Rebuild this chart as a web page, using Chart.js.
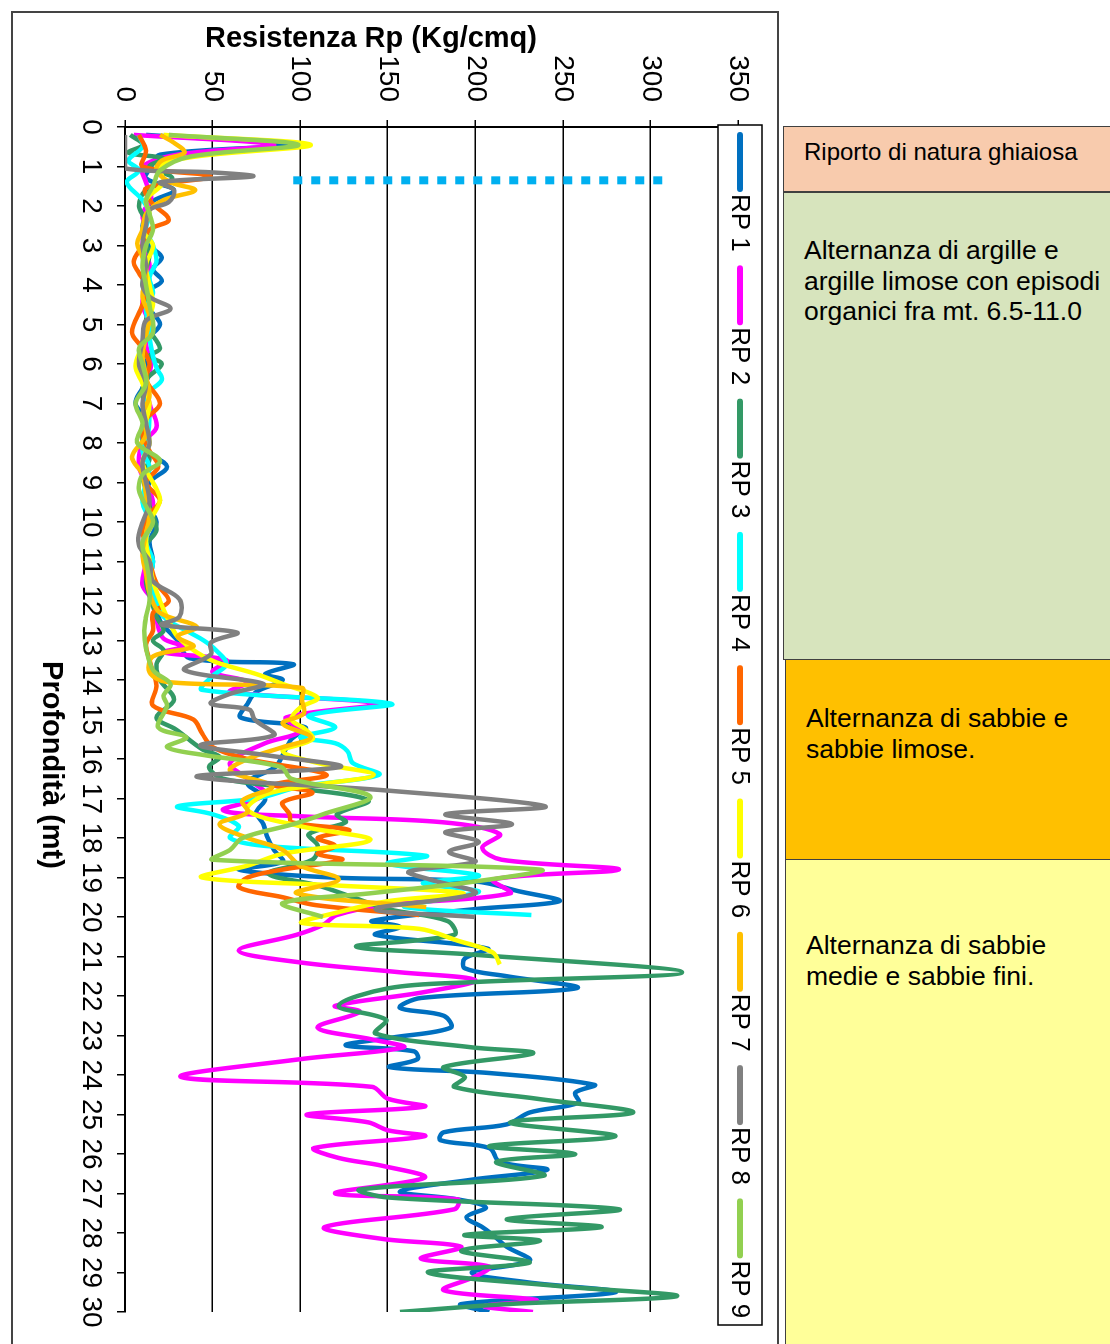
<!DOCTYPE html>
<html>
<head>
<meta charset="utf-8">
<script src="https://cdn.jsdelivr.net/npm/chart.js@4/dist/chart.umd.min.js"></script>
<style>
  html, body { margin: 0; padding: 0; overflow: hidden; background: #fff; width: 1110px; height: 1344px; }
  #frame { position: absolute; left: 11px; top: 11px; width: 768px; height: 1370px; border: 2px solid #444; box-sizing: border-box; }
  #wrap { position: absolute; left: -271px; top: 295px; width: 1332px; height: 766px; transform: rotate(90deg); }
  .box { position: absolute; left: 783px; width: 340px; box-sizing: border-box; border: 1.5px solid #404040;
         font: 26.5px 'Liberation Sans', Arial, sans-serif; color: #000; line-height: 30.5px; padding-left: 20px; }
</style>
</head>
<body>
<div id="frame"></div>
<div id="wrap"><canvas id="myChart" width="1332" height="766"></canvas></div>

<div class="box" style="top:126px;height:66px;background:#f8cbad;padding-top:10px;font-size:24px;">Riporto di natura ghiaiosa</div>
<div class="box" style="top:192px;height:468px;background:#d7e4bd;padding-top:42px;">Alternanza di argille e<br>argille limose con episodi<br>organici fra mt. 6.5-11.0</div>
<div class="box" style="top:659px;height:201px;left:785px;background:#ffc000;padding-top:43px;">Alternanza di sabbie e<br>sabbie limose.</div>
<div class="box" style="top:859px;height:500px;left:785px;background:#ffff99;padding-top:70px;">Alternanza di sabbie<br>medie e sabbie fini.</div>

<script>
// depth (m) and resistance Rp (Kg/cmq), one pair of arrays per test
const rp1Depth = [0.2,0.45,0.7,1.0,1.3,1.6,1.9,2.2,2.6,3.0,3.3,3.6,3.9,4.2,4.6,5.0,5.4,5.8,6.2,6.6,7.0,7.4,7.8,8.2,8.6,9.0,9.5,10.0,10.5,11.0,11.5,12.0,12.5,13.0,13.45,13.6,13.85,14.0,14.3,14.6,14.95,15.2,15.5,15.9,16.2,16.6,17.0,17.35,17.65,17.95,18.3,18.6,18.8,19.0,19.1,19.35,19.6,19.8,20.1,20.25,20.45,20.8,21.05,21.3,21.5,21.8,22.05,22.3,22.5,22.8,23.05,23.25,23.4,23.6,23.8,23.95,24.25,24.45,24.7,24.95,25.25,25.45,25.65,25.85,26.2,26.4,26.65,26.95,27.15,27.35,27.6,27.85,28.05,28.35,28.7,29.0,29.25,29.5,29.8,30.0];
const rp1 = [12,92,20,15,12,28,15,12,10,14,21,16,21,12,14,20,12,10,14,10,6,12,10,12,24,14,12,18,14,16,14,18,20,30,37,96,80,90,75,70,66,103,95,90,86,70,80,75,79,81,85,90,65,118,200,225,248,200,141,157,143,207,194,194,218,258,169,157,182,186,153,126,165,167,151,208,268,257,259,231,218,182,180,208,214,241,198,157,190,206,195,204,210,218,231,198,230,280,192,208];

const rp2Depth = [0.2,0.45,0.7,1.0,1.4,1.8,2.2,2.6,3.0,3.5,4.0,4.5,5.0,5.5,6.0,6.5,7.0,7.6,8.0,8.6,9.0,9.5,10.0,10.5,11.0,11.6,12.0,12.5,12.95,13.15,13.3,13.5,13.8,14.05,14.3,14.6,14.95,15.3,15.6,16.1,16.5,16.9,17.3,17.45,17.6,17.9,18.25,18.55,18.8,19.05,19.4,19.7,19.95,20.2,20.45,20.85,21.15,21.4,21.6,21.9,22.25,22.4,22.8,23.1,23.3,23.6,24.05,24.3,24.6,24.8,25.0,25.2,25.4,25.55,25.85,26.1,26.3,26.6,27.0,27.15,27.4,27.85,28.15,28.35,28.65,28.85,29.1,29.45,29.7,29.85,30.0];
const rp2 = [5,85,30,10,12,15,10,12,10,14,12,10,14,12,15,12,14,18,10,8,12,16,14,12,12,10,16,18,22,33,22,58,50,70,60,144,92,100,80,60,70,80,56,100,181,214,204,215,282,210,220,148,121,113,98,65,100,157,200,171,120,134,110,141,159,100,32,141,150,171,104,139,150,171,108,122,147,171,120,190,188,114,147,192,169,208,200,182,235,205,233];

const rp3Depth = [0.2,0.45,0.65,0.8,1.0,1.3,1.6,2.0,2.4,2.8,3.2,3.6,4.0,4.5,5.0,5.6,5.8,6.0,6.4,6.8,7.2,7.6,8.0,8.4,8.8,9.2,9.6,10.2,10.6,11.0,11.5,12.0,12.4,12.75,13.0,13.25,13.6,14.0,14.5,14.95,15.25,15.75,15.95,16.2,16.5,16.75,17.05,17.4,17.6,17.9,18.2,18.55,18.9,19.2,19.5,19.8,20.1,20.45,20.75,20.95,21.4,21.65,21.8,22.25,22.6,22.95,23.3,23.45,23.8,24.05,24.3,24.6,24.95,25.2,25.55,25.8,26.0,26.2,26.55,26.9,27.1,27.4,27.65,27.85,28.05,28.2,28.45,28.75,29.0,29.35,29.6,29.8,30.0];
const rp3 = [3,10,2,22,14,27,12,8,12,10,14,12,10,14,12,20,14,21,12,10,14,12,10,14,10,12,14,18,12,14,12,15,18,22,16,22,18,20,28,18,29,44,54,48,56,100,139,121,126,105,110,107,82,110,130,150,184,188,132,198,318,198,151,122,149,143,198,233,182,194,188,235,290,220,280,208,257,212,239,134,150,282,218,272,194,237,192,231,173,249,315,218,157];

const rp4Depth = [0.2,0.5,0.85,1.1,1.4,1.85,2.2,2.6,3.0,3.4,3.8,4.2,4.6,5.0,5.3,5.8,6.1,6.4,6.8,7.2,7.85,8.2,8.6,9.0,9.5,10.0,10.5,11.0,11.5,12.0,12.4,12.8,13.0,13.25,13.6,13.9,14.25,14.6,14.9,15.2,15.45,15.6,15.8,16.1,16.4,16.7,17.0,17.2,17.4,17.7,18.0,18.2,18.45,18.65,18.95,19.15,19.35,19.55,19.75,19.95];
const rp4 = [8,10,2,8,1,10,14,12,16,18,14,16,12,14,14,16,18,21,12,14,13,10,14,12,10,14,12,16,14,18,22,37,45,52,58,50,44,152,105,120,100,120,127,130,145,100,75,30,50,65,60,80,172,150,202,170,202,180,160,232];

const rp5Depth = [0.2,0.6,1.0,1.25,1.55,1.9,2.35,2.6,3.0,3.4,3.7,4.0,4.5,5.2,5.6,6.0,6.4,7.0,7.4,7.8,8.2,8.6,9.0,9.45,9.8,10.2,10.6,11.0,11.55,12.0,12.3,12.75,13.1,13.5,13.8,14.15,14.65,15.0,15.35,15.7,16.0,16.4,16.65,16.85,17.1,17.4,17.6,17.8,18.0,18.2,18.4,18.55,18.8,19.0,19.25,19.5,19.7,19.95];
const rp5 = [8,12,10,49,12,15,25,14,10,5,8,12,10,4,10,14,12,20,12,10,14,19,12,20,14,10,12,14,18,25,16,16,12,14,16,18,16,39,44,50,70,115,85,107,90,94,95,128,110,120,110,124,90,70,65,90,109,168];

const rp6Depth = [0.2,0.45,0.75,1.0,1.4,1.85,2.2,2.6,3.0,3.5,4.0,4.5,5.0,5.5,6.05,6.5,7.0,7.5,8.0,8.5,9.0,9.45,10.0,10.5,11.0,11.5,12.0,12.5,12.9,13.3,13.55,13.85,14.1,14.45,14.7,15.0,15.25,15.5,15.8,16.1,16.4,16.65,16.9,17.3,17.7,18.05,18.4,18.7,19.0,19.2,19.4,19.6,19.9,20.15,20.3,20.6,20.9,21.2];
const rp6 = [22,106,40,20,22,12,14,10,16,12,14,16,12,10,6,10,14,12,14,10,16,20,14,12,14,16,20,25,30,41,52,75,90,110,100,95,103,107,90,110,142,110,80,70,100,140,90,70,44,120,193,150,120,101,168,190,210,214];

const rp7Depth = [0.2,0.4,0.65,0.85,1.1,1.4,1.6,1.85,2.2,2.6,2.95,3.3,3.8,4.3,4.8,5.3,5.8,6.3,6.8,7.3,7.8,8.35,8.8,9.3,9.8,10.3,10.8,11.3,11.8,12.3,12.65,12.9,13.15,13.4,13.8,14.05,14.2,14.5,14.85,15.1,15.45,15.7,16.0,16.3,16.7,17.05,17.35,17.65,18.0,18.3,18.7,19.05,19.4,19.75];
const rp7 = [20,28,34,21,18,26,40,22,12,10,7,10,12,10,14,12,10,12,14,10,12,4,10,12,14,12,10,12,14,20,41,30,39,16,14,24,101,101,102,90,106,90,70,60,84,67,70,54,70,90,100,122,98,172];

const rp8Depth = [0.2,0.5,0.8,1.05,1.15,1.25,1.4,1.6,1.9,2.1,2.5,3.0,3.5,4.0,4.3,4.6,4.9,5.4,6.0,6.5,7.0,7.5,8.0,8.5,9.0,9.5,10.0,10.3,10.6,11.0,11.5,11.95,12.4,12.6,12.8,13.05,13.35,13.75,14.1,14.35,14.6,14.75,15.0,15.4,15.65,15.9,16.2,16.45,16.8,17.2,17.4,17.65,17.85,18.1,18.35,18.6,18.85,19.05,19.4,19.8,20.0];
const rp8 = [0,0,0,0,50,73,20,28,25,14,12,10,12,10,14,26,12,10,8,12,10,12,14,10,12,14,10,8,8,14,16,31,31,21,64,49,49,34,79,60,49,71,74,85,43,80,123,41,150,240,183,221,183,202,185,200,162,174,200,143,200];

const rp9Depth = [0.2,0.45,0.75,1.1,1.5,1.85,2.2,2.6,3.0,3.5,4.0,4.5,5.2,5.6,6.0,6.5,7.0,7.5,8.0,8.45,8.8,9.2,9.6,10.0,10.5,11.0,11.5,12.0,12.4,12.75,13.2,13.75,14.1,14.4,14.65,15.2,15.45,15.7,15.9,16.2,16.5,16.95,17.4,17.65,18.0,18.3,18.55,18.8,19.1,19.4,19.65,20.0];
const rp9 = [25,99,37,20,16,12,14,16,12,10,12,14,16,8,10,12,6,10,7,20,10,8,12,16,10,12,14,14,12,11,12,16,26,22,24,19,35,24,45,89,95,140,113,96,67,60,50,237,200,140,90,113];

// dotted reference line near 1.35 m
const limitDepth = [1.35, 1.35];
const limitRp = [96, 308];

const seriesNames = ['RP 1','RP 2','RP 3','RP 4','RP 5','RP 6','RP 7','RP 8','RP 9'];
const seriesColors = ['#0070c0','#ff00ff','#339966','#00ffff','#ff6600','#ffff00','#ffc000','#808080','#92d050'];
const depthTicks = { min: 0, max: 30, step: 1 };
const rpTicks = { min: 0, max: 350, step: 50 };
const rpTitle = 'Resistenza Rp (Kg/cmq)';
const depthTitle = 'Profondità (mt)';

const FONT = "'Liberation Sans', Arial, sans-serif";
Chart.defaults.font.family = FONT;

const toPoints = (depths, values) => depths.map((d, i) => ({ x: d, y: values[i] }));

const allDepths = [rp1Depth, rp2Depth, rp3Depth, rp4Depth, rp5Depth, rp6Depth, rp7Depth, rp8Depth, rp9Depth];
const allValues = [rp1, rp2, rp3, rp4, rp5, rp6, rp7, rp8, rp9];

const datasets = seriesNames.map((name, i) => ({
  label: name,
  data: toPoints(allDepths[i], allValues[i]),
  borderColor: seriesColors[i],
  backgroundColor: seriesColors[i],
  borderWidth: 4.5,
  tension: 0.35,
  pointRadius: 0,
  fill: false,
  order: 9 - i
}));

datasets.push({
  label: 'limite',
  data: toPoints(limitDepth, limitRp),
  borderColor: '#00b0f0',
  borderWidth: 8,
  borderDash: [9, 9],
  borderCapStyle: 'butt',
  pointRadius: 0,
  tension: 0,
  order: 0
});

// axis titles and the boxed legend, placed like the original sheet
const overlay = {
  id: 'overlay',
  afterDraw(chart) {
    const ctx = chart.ctx;
    ctx.save();
    ctx.fillStyle = '#000';
    ctx.textAlign = 'center';
    ctx.textBaseline = 'middle';
    ctx.font = 'bold 29px ' + FONT;
    ctx.save();
    ctx.translate(27, 407);
    ctx.rotate(-Math.PI / 2);
    ctx.fillText(rpTitle, 0, 0);
    ctx.restore();
    ctx.fillText(depthTitle, 753, 727);

    // legend box
    ctx.fillStyle = '#fff';
    ctx.fillRect(113, 16, 1200, 44);
    ctx.strokeStyle = '#000';
    ctx.lineWidth = 1.5;
    ctx.strokeRect(113, 16, 1200, 44);
    ctx.font = '26px ' + FONT;
    ctx.textAlign = 'left';
    chart.data.datasets.filter(ds => ds.label.startsWith('RP')).forEach((ds, i) => {
      const u = 123 + i * 133.3;
      ctx.strokeStyle = ds.borderColor;
      ctx.lineWidth = 6;
      ctx.lineCap = 'round';
      ctx.beginPath();
      ctx.moveTo(u, 38);
      ctx.lineTo(u + 54, 38);
      ctx.stroke();
      ctx.fillStyle = '#000';
      ctx.fillText(ds.label, u + 59, 39);
    });
    ctx.restore();
  }
};

const ctx = document.querySelector('#myChart').getContext('2d');
const chart = new Chart(ctx, {
  type: 'line',
  data: { datasets },
  options: {
    responsive: false,
    animation: false,
    devicePixelRatio: 1,
    layout: { padding: { top: 40, right: 32, left: 0, bottom: 0 } },
    plugins: { legend: { display: false }, tooltip: { enabled: false } },
    scales: {
      x: {
        type: 'linear',
        position: 'bottom',
        min: depthTicks.min,
        max: depthTicks.max,
        afterFit: s => { s.height = 113; },
        ticks: { stepSize: depthTicks.step, autoSkip: false, maxRotation: 0, color: '#000', font: { size: 28 }, padding: 9 },
        grid: { drawOnChartArea: false, color: '#000', tickLength: 8, lineWidth: 1.5 },
        border: { color: '#000', width: 2 }
      },
      y: {
        min: rpTicks.min,
        max: rpTicks.max,
        afterFit: s => { s.width = 115; },
        ticks: { stepSize: rpTicks.step, color: '#000', font: { size: 28 }, padding: 18 },
        grid: { color: '#000', lineWidth: 1.5, tickLength: 7 },
        border: { color: '#000', width: 2 }
      }
    }
  },
  plugins: [overlay]
});
</script>
</body>
</html>
